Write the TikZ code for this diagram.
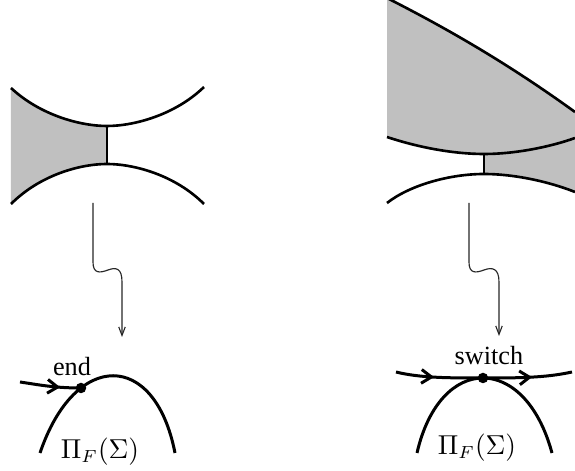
\documentclass[tikz,border=0pt]{standalone}
\usepackage{fontspec}
\setmainfont{Liberation Serif}
\usetikzlibrary{arrows.meta,decorations.markings}
\definecolor{regiongray}{RGB}{192,192,192}
\begin{document}
\begin{tikzpicture}[x=0.4pt,y=-0.4pt,
  curve/.style={line width=1.05pt},
  bcurve/.style={line width=1.2pt},
  wiggle/.style={line width=0.45pt, draw=black!85, -{Straight Barb[length=3.4pt,width=2.6pt]}},
  flowarrow/.style={postaction={decorate},decoration={markings,mark=at position #1 with {\arrow{Straight Barb[length=4pt,width=5.5pt]}}}},
  dot/.style={circle,fill,inner sep=0pt,minimum size=4.2pt},
  lab/.style={font=\fontsize{10.5}{12}\selectfont, inner sep=0pt}]
\useasboundingbox (0,0) rectangle (575,471);

% ---- left top shape
\fill[regiongray] (11,88) .. controls (40,115) and (80,126) .. (107,126) -- (107,164)
  .. controls (80,164) and (40,175) .. (11,204) -- cycle;
\draw[curve] (11,88) .. controls (40,115) and (80,126) .. (107,126)
  .. controls (134,126) and (175,115) .. (204,87);
\draw[curve] (11,204) .. controls (40,175) and (80,164) .. (107,164)
  .. controls (134,164) and (175,175) .. (204,204);
\draw[curve] (107,126) -- (107,164);

% ---- right top shape
\fill[regiongray] (387,-2) .. controls (450,30) and (510,65) .. (575,112) -- (575,138)
  .. controls (550,147) and (515,154) .. (484,154)
  .. controls (455,154) and (420,148) .. (387,137) -- cycle;
\fill[regiongray] (484,154) .. controls (515,154) and (550,147) .. (575,138) -- (575,192)
  .. controls (550,182) and (515,174) .. (484,174) -- cycle;
\draw[curve] (387,-2) .. controls (450,30) and (510,65) .. (575,112);
\draw[curve] (387,137) .. controls (420,148) and (455,154) .. (484,154)
  .. controls (515,154) and (550,147) .. (575,138);
\draw[curve] (387,203) .. controls (410,185) and (450,174) .. (484,174)
  .. controls (515,174) and (550,182) .. (575,192);
\draw[curve] (484,154) -- (484,174);

% ---- wiggly arrows
\coordinate (wl0) at (93,203);
\coordinate (wl1) at (122,337);
\draw[wiggle] (wl0) -- (93,262) .. controls (93,274) and (100,273) .. (108,270)
  .. controls (116,267) and (122,268) .. (122,282) -- (wl1);
\coordinate (wr0) at (469,203);
\coordinate (wr1) at (499,336);
\draw[wiggle] (wr0) -- (469,262) .. controls (469,274) and (476,273) .. (484,270)
  .. controls (492,267) and (499,268) .. (499,282) -- (wr1);

% ---- bottom left: end
\draw[bcurve] (40,453) .. controls (75,350) and (155,350) .. (175,453);
\node[dot] (ed) at (81,388) {};
\coordinate (ea) at (20,382);
\draw[bcurve, flowarrow=0.66] (ea) .. controls (40,385) and (55,388) .. (ed.center);
\node[lab] (endlab) at (72,367) {end};
\node[lab] (pil) at (100,452) {$\Pi_F(\Sigma)$};

% ---- bottom right: switch
\draw[bcurve] (417,453) .. controls (440,353) and (525,353) .. (552,453);
\node[dot] (sd) at (483,378) {};
\coordinate (sa) at (396,372);
\coordinate (sb) at (572,372);
\draw[bcurve, flowarrow=0.44] (sa) .. controls (420,378) and (450,378) .. (sd.center);
\draw[bcurve, flowarrow=0.55] (sd.center) .. controls (516,378) and (545,378) .. (sb);
\node[lab] (swlab) at (489,356) {switch};
\node[lab] (pir) at (477,448) {$\Pi_F(\Sigma)$};
\end{tikzpicture}
\end{document}
